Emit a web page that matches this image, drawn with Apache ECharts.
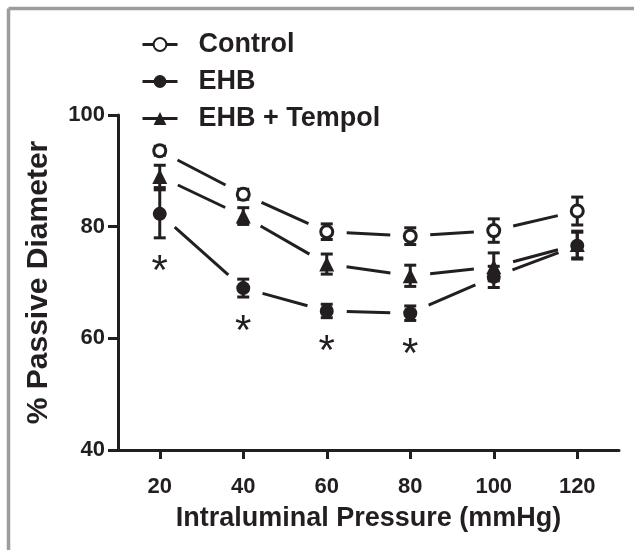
<!DOCTYPE html>
<html>
<head>
<meta charset="utf-8">
<script src="https://cdn.jsdelivr.net/npm/echarts@6/dist/echarts.min.js"></script>
<style>
  html, body { margin: 0; padding: 0; background: #fff; }
  #chart { width: 634px; height: 550px; }
</style>
</head>
<body>
<div id="chart"></div>
<script>
// values (mean and error of % passive diameter)
const pressure = [20, 40, 60, 80, 100, 120];
const controlMean = [93.6, 85.8, 79.1, 78.3, 79.3, 82.8];
const controlErr = [0.8, 0.9, 1.4, 1.5, 2.1, 2.5];
const ehbMean = [82.3, 69.0, 64.9, 64.5, 71.0, 76.6];
const ehbErr = [4.3, 1.6, 1.2, 1.3, 1.9, 2.4];
const tempolMean = [89.0, 81.9, 73.3, 71.2, 72.8, 76.8];
const tempolErr = [2.0, 1.5, 1.8, 1.9, 2.5, 2.4];
const significant = [20, 40, 60, 80];
const xTicks = [20, 40, 60, 80, 100, 120];

const INK = '#231f20';
const FONT = '"Liberation Sans", Arial, Helvetica, sans-serif';
const GAP = 20;   // space left between a line and its marker
const CAP = 6;    // half width of error bar caps

function pairs(mean) {
    let out = [];
    for (let i = 0; i < pressure.length - 1; i++) {
        out.push([pressure[i], mean[i], pressure[i + 1], mean[i + 1]]);
    }
    return out;
}

function withErr(mean, err) {
    return pressure.map((x, i) => [x, mean[i], err[i]]);
}

function segmentItem(params, api) {
    const a = api.coord([api.value(0), api.value(1)]);
    const b = api.coord([api.value(2), api.value(3)]);
    const dx = b[0] - a[0], dy = b[1] - a[1];
    const len = Math.sqrt(dx * dx + dy * dy);
    const ux = dx / len, uy = dy / len;
    return {
        type: 'line',
        shape: {x1: a[0] + ux * GAP, y1: a[1] + uy * GAP, x2: b[0] - ux * GAP, y2: b[1] - uy * GAP},
        style: {stroke: INK, lineWidth: 3}
    };
}

function errorItem(params, api) {
    const x = api.value(0), m = api.value(1), e = api.value(2);
    const top = api.coord([x, m + e]);
    const bot = api.coord([x, m - e]);
    const st = {stroke: INK, lineWidth: 3};
    return {
        type: 'group',
        children: [
            {type: 'line', shape: {x1: top[0], y1: top[1], x2: bot[0], y2: bot[1]}, style: st},
            {type: 'line', shape: {x1: top[0] - CAP, y1: top[1], x2: top[0] + CAP, y2: top[1]}, style: st},
            {type: 'line', shape: {x1: bot[0] - CAP, y1: bot[1], x2: bot[0] + CAP, y2: bot[1]}, style: st}
        ]
    };
}

// asterisk under the lower error bar of EHB
function starItem(params, api) {
    const p = api.coord([api.value(0), api.value(1)]);
    return {
        type: 'text',
        x: p[0],
        y: p[1] + 35,
        style: {
            text: '*', fill: INK, font: 'normal 42px ' + FONT,
            align: 'center', verticalAlign: 'middle'
        }
    };
}

const starData = significant.map(x => {
    const i = pressure.indexOf(x);
    return [x, ehbMean[i] - ehbErr[i]];
});

function lineSeries(mean) {
    return {type: 'custom', renderItem: segmentItem, data: pairs(mean),
        encode: {x: [0, 2], y: [1, 3]}, z: 2, silent: true};
}
function errSeries(mean, err) {
    return {type: 'custom', renderItem: errorItem, data: withErr(mean, err),
        encode: {x: 0, y: 1}, z: 3, silent: true};
}
function markerSeries(name, mean, symbol, size, itemStyle) {
    return {
        name: name, type: 'line', data: pressure.map((x, i) => [x, mean[i]]),
        symbol: symbol, symbolSize: size, showAllSymbol: true,
        lineStyle: {width: 0, opacity: 0}, itemStyle: itemStyle, z: 5, silent: true
    };
}

let myChart = echarts.init(document.getElementById('chart'));
myChart.setOption({
    animation: false,
    backgroundColor: '#fff',
    grid: {left: 118, right: 15, top: 115, bottom: 100},
    graphic: [
        {type: 'line', shape: {x1: 8.5, y1: 8.5, x2: 634, y2: 8.5}, style: {stroke: '#9d9d9d', lineWidth: 3.5}},
        {type: 'line', shape: {x1: 8.5, y1: 8.5, x2: 8.5, y2: 550}, style: {stroke: '#9d9d9d', lineWidth: 3.5}}
    ],
    legend: {
        orient: 'vertical', left: 136, top: 26,
        itemWidth: 35, itemHeight: 16, itemGap: 10,
        data: ['Control', 'EHB', 'EHB + Tempol'],
        lineStyle: {width: 3, color: INK, opacity: 1},
        textStyle: {fontFamily: FONT, fontWeight: 'bold', fontSize: 27, color: INK, padding: [0, 0, 0, 16]},
        selectedMode: false
    },
    xAxis: {
        type: 'value', min: 10, max: 130,
        name: 'Intraluminal Pressure (mmHg)', nameLocation: 'middle', nameGap: 55,
        nameTextStyle: {fontFamily: FONT, fontWeight: 'bold', fontSize: 27, color: INK},
        splitLine: {show: false},
        axisLine: {lineStyle: {color: INK, width: 3}},
        axisTick: {customValues: xTicks, length: 9, lineStyle: {color: INK, width: 3}},
        axisLabel: {customValues: xTicks, margin: 26, fontFamily: FONT, fontWeight: 'bold', fontSize: 22, color: INK}
    },
    yAxis: {
        type: 'value', min: 40, max: 100, interval: 20,
        name: '% Passive Diameter', nameLocation: 'middle', nameGap: 64,
        nameTextStyle: {fontFamily: FONT, fontWeight: 'bold', fontSize: 30, color: INK},
        splitLine: {show: false},
        axisLine: {show: true, lineStyle: {color: INK, width: 3}},
        axisTick: {show: true, length: 10, lineStyle: {color: INK, width: 3}},
        axisLabel: {margin: 13, fontFamily: FONT, fontWeight: 'bold', fontSize: 22, color: INK}
    },
    series: [
        lineSeries(controlMean),
        lineSeries(ehbMean),
        lineSeries(tempolMean),
        errSeries(controlMean, controlErr),
        errSeries(ehbMean, ehbErr),
        errSeries(tempolMean, tempolErr),
        markerSeries('Control', controlMean, 'circle', 12, {color: '#fff', borderColor: INK, borderWidth: 3}),
        markerSeries('EHB', ehbMean, 'circle', 14, {color: INK, borderWidth: 0}),
        markerSeries('EHB + Tempol', tempolMean, 'triangle', 15, {color: INK, borderWidth: 0}),
        {type: 'custom', renderItem: starItem, data: starData, encode: {x: 0, y: 1}, z: 4, silent: true}
    ]
});
</script>
</body>
</html>
